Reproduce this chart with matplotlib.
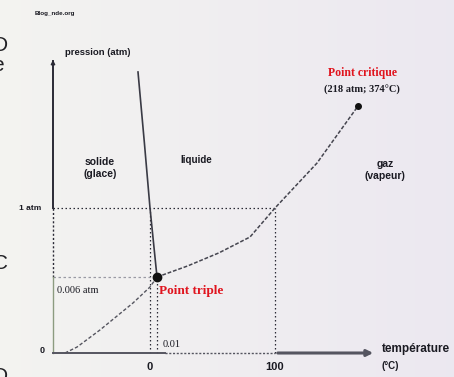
"""Phase diagram of water (schematic, not to scale)."""

import numpy as np
import matplotlib

matplotlib.use("Agg")
import matplotlib.pyplot as plt

# Schematic curve points: x = temperature position, y = pressure position (1.0 = 1 atm)
subl_t = [-68.0, -58.4, -40.0, -13.6, 0.0, 5.6]
subl_p = [0.0, 0.041, 0.159, 0.345, 0.455, 0.524]

vap_t = [5.6, 30.0, 55.0, 80.0, 100.0, 133.6, 166.4]
vap_p = [0.524, 0.60, 0.69, 0.80, 1.0, 1.31, 1.703]

fus_t = [5.6, 0.0, -4.5, -9.6]
fus_p = [0.524, 1.0, 1.45, 1.938]

triple_pt = (5.6, 0.524)
critical_pt = (166.4, 1.703)
boil_pt = (100.0, 1.0)
melt_pt = (0.0, 1.0)

x_ticks = [0, 100]
x_tick_labels = ["0", "100"]

INK = "#2a2a35"
RED = "#e0141e"
SERIF = ["Liberation Serif", "DejaVu Serif"]
SANS = ["Liberation Sans", "DejaVu Sans"]

fig = plt.figure(figsize=(4.54, 3.77), dpi=100)
ax = fig.add_axes([0, 0, 1, 1])
ax.set_xlim(-120, 243.2)
ax.set_ylim(-0.1655, 2.4345)
ax.axis("off")

# soft slide background: light grey turning slightly lavender to the right
grad = np.linspace(0, 1, 256)
bg = np.zeros((2, 256, 3))
left = np.array([0.955, 0.955, 0.945])
right = np.array([0.925, 0.91, 0.945])
for i in range(2):
    bg[i] = left[None, :] * (1 - grad[:, None]) + right[None, :] * grad[:, None]
ax.imshow(bg, extent=(-120, 243.2, -0.1655, 2.4345), aspect="auto", zorder=0)

x0 = -77.6  # y-axis position
y_top = 2.041
x_end = 180.8

# y axis: solid above 1 atm, dotted stretch, faint below the triple point
ax.plot([x0, x0], [1.0, y_top - 0.03], color=INK, lw=1.4, zorder=3)
ax.plot([x0, x0], [triple_pt[1], 1.0], color=INK, lw=1.0, ls=(0, (1.5, 1.5)), zorder=3)
ax.plot([x0, x0], [0, triple_pt[1]], color="#8c9c80", lw=1.0, zorder=3)
ax.annotate("", xy=(x0, y_top), xytext=(x0, y_top - 0.06),
            arrowprops=dict(arrowstyle="-|>", color=INK, lw=1.0, mutation_scale=6), zorder=3)

# x axis: solid, dotted middle, heavy arrow past 100
ax.plot([x0, 12], [0, 0], color="#555560", lw=1.4, zorder=3)
ax.plot([12, 100], [0, 0], color="#555560", lw=1.0, ls=(0, (1.5, 1.2)), zorder=3)
ax.annotate("", xy=(x_end, 0), xytext=(100, 0),
            arrowprops=dict(arrowstyle="-|>", color="#555560", lw=2.2, mutation_scale=9), zorder=3)

# reference dotted lines
dot = dict(color=INK, lw=0.9, ls=(0, (1.2, 2.0)), zorder=2)
ax.plot([x0, boil_pt[0]], [1.0, 1.0], **dot)
ax.plot([boil_pt[0], boil_pt[0]], [0, 1.0], **dot)
ax.plot([melt_pt[0], melt_pt[0]], [0, 1.0], **dot)
ax.plot([x0, triple_pt[0]], [triple_pt[1], triple_pt[1]], color="#9a9aa4", lw=0.9,
        ls=(0, (2.0, 2.0)), zorder=2)
ax.plot([triple_pt[0], triple_pt[0]], [0, triple_pt[1]], **dot)

# equilibrium curves
ax.plot(subl_t, subl_p, color="#55555f", lw=1.0, ls=(0, (2.5, 1.5)), zorder=4)
ax.plot(vap_t, vap_p, color="#45454f", lw=1.1, ls=(0, (2.5, 1.2)), zorder=4)
ax.plot(fus_t, fus_p, color="#3a3a45", lw=1.2, zorder=4)

ax.plot(*triple_pt, "o", color="#111111", ms=6, zorder=5)
ax.plot(*critical_pt, "o", color="#111111", ms=4, zorder=5)

TXT = "#1a1a22"

# axis texts
ax.text(-68, 2.069, "pression (atm)", fontsize=6.8, fontweight="bold", family=SANS,
        ha="left", va="center", color=TXT)
ax.text(-92, 2.338, "Blog_nde.org", fontsize=4.5, fontweight="bold", family=SANS,
        ha="left", va="center", color=TXT)
ax.text(-96, 1.0, "1 atm", fontsize=6, fontweight="bold", family=SANS,
        ha="center", va="center", color=TXT)
ax.text(-86.4, 0.02, "0", fontsize=6.5, fontweight="bold", family=SANS,
        ha="center", va="center", color=TXT)
for t, lab in zip(x_ticks, x_tick_labels):
    ax.text(t, -0.095, lab, fontsize=8, fontweight="bold", family=SANS,
            ha="center", va="center", color=TXT)
ax.text(185.6, 0.025, "température", fontsize=8.5, fontweight="bold", family=SANS,
        ha="left", va="center", color=TXT, clip_on=True)
ax.text(185.6, -0.09, "(°C)", fontsize=7, fontweight="bold", family=SANS,
        ha="left", va="center", color=TXT)

# phase regions
ax.text(-40, 1.276, "solide\n(glace)", fontsize=7.5, fontweight="bold", family=SANS,
        ha="center", va="center", linespacing=1.3, color=TXT)
ax.text(36.8, 1.331, "liquide", fontsize=7, fontweight="bold", family=SANS,
        ha="center", va="center", color=TXT)
ax.text(188, 1.262, "gaz\n(vapeur)", fontsize=7.5, fontweight="bold", family=SANS,
        ha="center", va="center", linespacing=1.25, color=TXT)

# particular points
ax.text(169.6, 1.931, "Point critique", fontsize=8.5, fontweight="bold", family=SERIF,
        ha="center", va="center", color=RED)
ax.text(169.6, 1.814, "(218 atm; 374°C)", fontsize=7.5, fontweight="bold", family=SERIF,
        ha="center", va="center", color=TXT)
ax.text(7, 0.43, "Point triple", fontsize=9.5, fontweight="bold", family=SERIF,
        ha="left", va="center", color=RED)
ax.text(-57.6, 0.434, "0.006 atm", fontsize=7.5, family=SERIF,
        ha="center", va="center", color=TXT)
ax.text(10.4, 0.06, "0.01", fontsize=7.5, family=SERIF,
        ha="left", va="center", color=TXT)

# letters of the neighbouring slide, cut by the left edge
for yy, ch in [(2.12, "D"), (1.98, "e"), (0.62, "C"), (-0.16, "D")]:
    ax.text(-126, yy, ch, fontsize=15, family=SANS, ha="left", va="center",
            color="#202024", clip_on=True)

fig.savefig("out.png", dpi=100)
